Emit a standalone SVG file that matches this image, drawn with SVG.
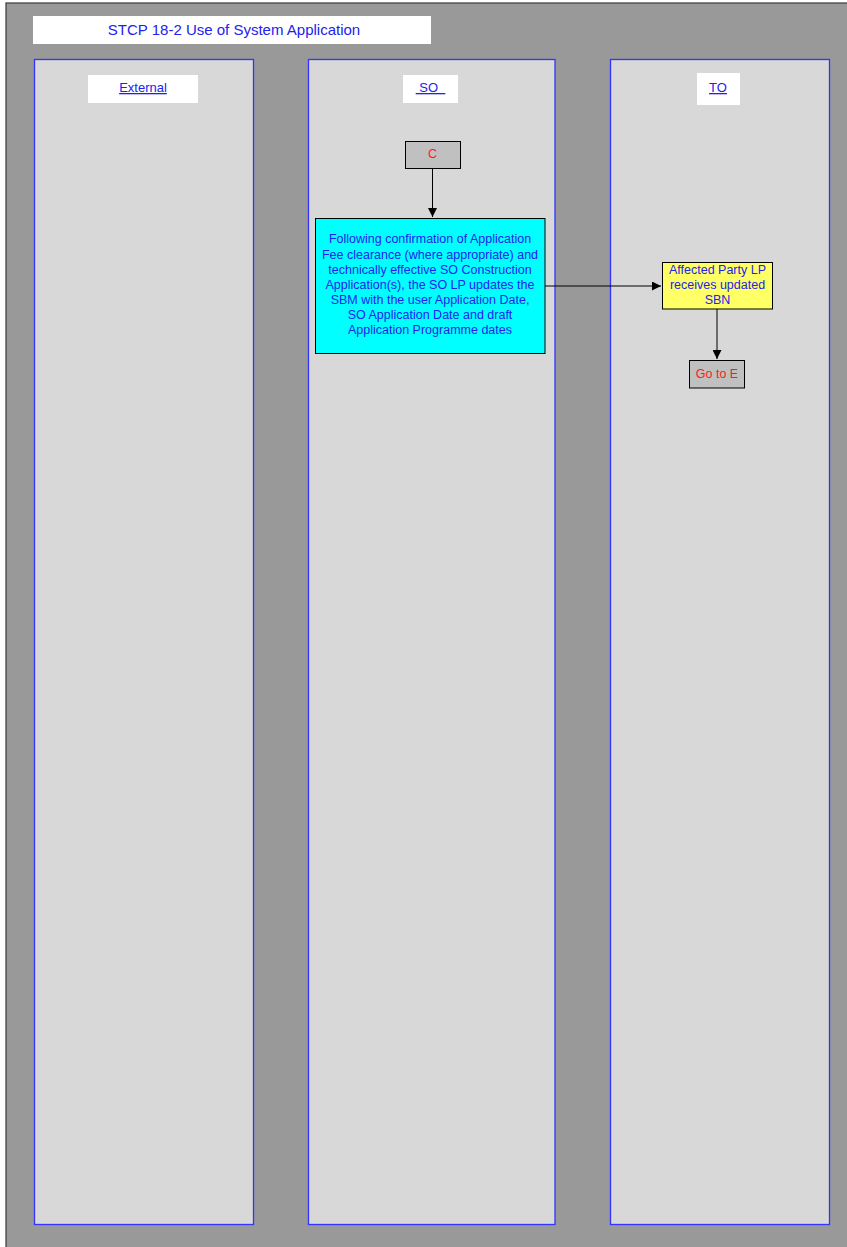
<svg xmlns="http://www.w3.org/2000/svg" width="847" height="1247" viewBox="0 0 847 1247">
<defs>
<style>
text{font-family:"Liberation Sans",Arial,sans-serif;text-anchor:middle}
.lane{fill:#d8d8d8;stroke:#3333ff;stroke-width:1.3}
.hdr{fill:#ffffff}
.ht{font-size:13px;fill:#2222ee;text-decoration:underline}
.bt{font-size:12.5px;fill:#2222ee}
.rt{font-size:12.5px;fill:#ff1a1a}
.conn{stroke:#000;stroke-width:1;fill:none;marker-end:url(#ah)}
</style>
<marker id="ah" viewBox="0 0 10 10" refX="10" refY="5" markerWidth="9" markerHeight="9" markerUnits="userSpaceOnUse" orient="auto">
<path d="M0,0 L10,5 L0,10 z" fill="#000"/>
</marker>
</defs>
<rect x="0" y="0" width="847" height="1247" fill="#ffffff"/>
<rect x="6" y="3" width="845" height="1250" fill="#999999" stroke="#444444" stroke-width="1.3"/>
<g id="title">
<rect x="33" y="16" width="398" height="28" fill="#ffffff"/>
<text x="234" y="35" style="font-size:15px;fill:#2222ee">STCP 18-2 Use of System Application</text>
</g>
<g id="lane-external">
<rect class="lane" x="34.5" y="59.5" width="219" height="1165"/>
<rect class="hdr" x="88" y="75" width="110" height="28"/>
<text class="ht" x="143" y="92">External</text>
</g>
<g id="lane-so">
<rect class="lane" x="308.5" y="59.5" width="246.5" height="1165"/>
<rect class="hdr" x="403" y="75" width="55" height="28"/>
<text class="ht" x="430.5" y="92" xml:space="preserve"> SO  </text>
</g>
<g id="lane-to">
<rect class="lane" x="610.5" y="59.5" width="219" height="1165"/>
<rect class="hdr" x="697" y="73" width="43" height="32"/>
<text class="ht" x="718" y="92">TO</text>
</g>
<g id="connectors">
<path class="conn" d="M432.5,168 V217"/>
<path class="conn" d="M545,286 H661"/>
<path class="conn" d="M717,309 V359"/>
</g>
<g id="node-c">
<rect x="405.5" y="141.5" width="55" height="27" fill="#c0c0c0" stroke="#000" stroke-width="1"/>
<text class="rt" x="432.5" y="158">C</text>
</g>
<g id="node-update">
<rect x="315.5" y="218.5" width="229.5" height="135" fill="#00ffff" stroke="#000" stroke-width="1"/>
<text class="bt" x="430" y="243">Following confirmation of Application</text>
<text class="bt" x="430" y="259">Fee clearance (where appropriate) and</text>
<text class="bt" x="430" y="274">technically effective SO Construction</text>
<text class="bt" x="430" y="289">Application(s), the SO LP updates the</text>
<text class="bt" x="430" y="304">SBM with the user Application Date,</text>
<text class="bt" x="430" y="319">SO Application Date and draft</text>
<text class="bt" x="430" y="334">Application Programme dates</text>
</g>
<g id="node-receives">
<rect x="662.5" y="262.5" width="110" height="46.5" fill="#ffff66" stroke="#000" stroke-width="1"/>
<text class="bt" x="717.5" y="274">Affected Party LP</text>
<text class="bt" x="717.5" y="289">receives updated</text>
<text class="bt" x="717.5" y="304">SBN</text>
</g>
<g id="node-goto-e">
<rect x="689.5" y="360.5" width="55" height="27.5" fill="#c0c0c0" stroke="#000" stroke-width="1"/>
<text class="rt" x="717" y="378">Go to E</text>
</g>
</svg>
